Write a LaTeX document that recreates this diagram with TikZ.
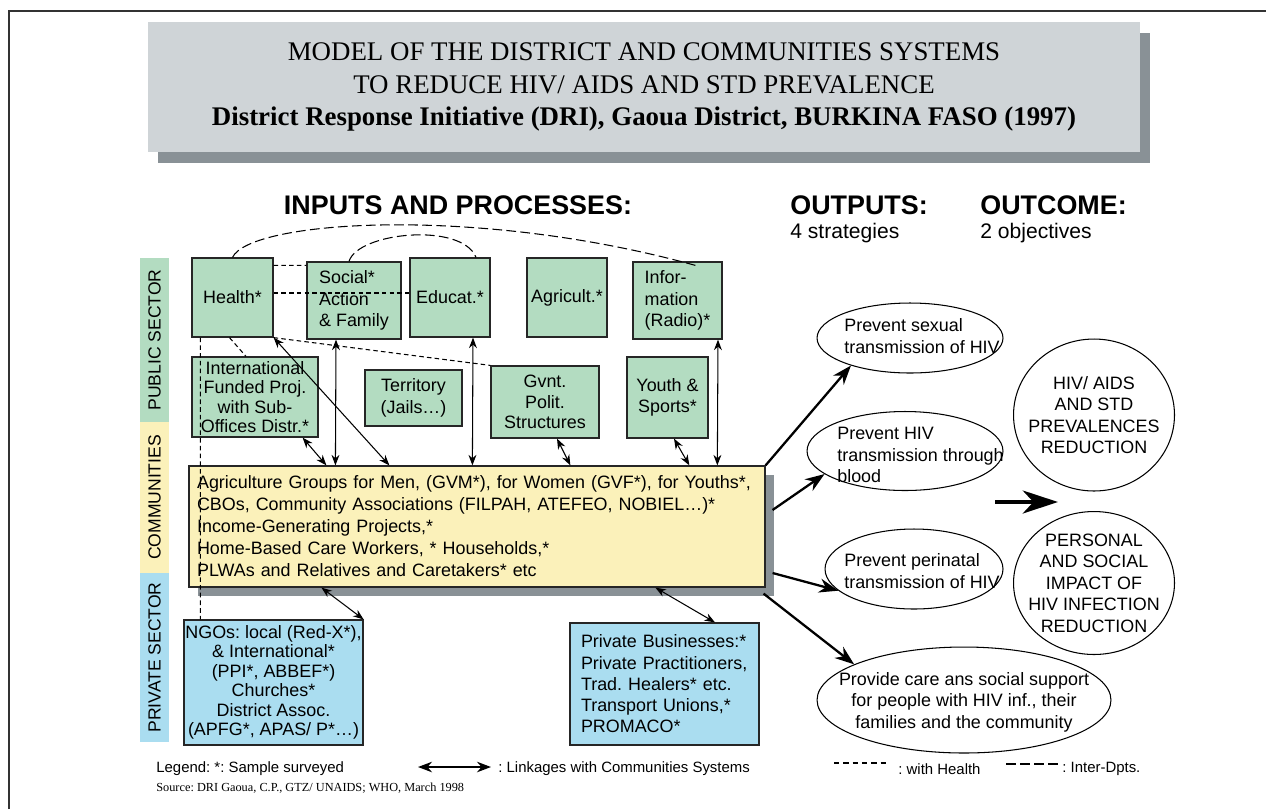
\documentclass[tikz,border=0pt]{standalone}
\usepackage{fontspec}
\setmainfont{Liberation Sans}
\newfontfamily\timesfont{Liberation Serif}
\usetikzlibrary{arrows.meta, shapes.geometric, shadows}
\frenchspacing

\definecolor{pubgreen}{RGB}{179,220,193}
\definecolor{comyellow}{RGB}{251,241,186}
\definecolor{privblue}{RGB}{170,221,240}
\definecolor{titlegray}{RGB}{207,212,215}
\definecolor{shadegray}{RGB}{137,145,150}

\begin{document}
\begin{tikzpicture}[
  x=0.02cm, y=-0.02cm,
  every node/.style={
    font=\fontsize{10.2}{12.2}\selectfont
  },
  titlebox/.style={
    fill=titlegray, inner sep=0pt, align=center,
    font=\timesfont\fontsize{15.3}{18.7}\selectfont,
    general shadow={shadow xshift=0.2cm, shadow yshift=-0.22cm, fill=shadegray}
  },
  head/.style={inner sep=0pt, font=\bfseries\fontsize{15.3}{18}\selectfont},
  sub/.style={inner sep=0pt, font=\fontsize{12}{14}\selectfont},
  strip/.style={
    rotate=90, minimum height=0.58cm, inner sep=0pt,
    font=\fontsize{10}{12}\selectfont
  },
  box/.style={draw=black!85, line width=0.7pt, inner sep=0pt},
  pubbox/.style={box, fill=pubgreen, align=center},
  oval/.style={ellipse, draw, line width=0.6pt, inner sep=0pt},
  otext/.style={align=left, inner sep=0pt},
  ctext/.style={align=center, inner sep=0pt},
  link/.style={
    {Stealth[length=6pt, width=4.5pt]}-{Stealth[length=6pt, width=4.5pt]},
    line width=0.6pt
  },
  outarrow/.style={-{Stealth[length=11pt, width=8pt]}, line width=1.3pt},
  goarrow/.style={-{Stealth[length=20pt, width=13pt, inset=6pt]}, line width=2.6pt},
  hdash/.style={dash pattern=on 2.6pt off 1.8pt, line width=0.6pt},
  idash/.style={dash pattern=on 5.5pt off 2.5pt, line width=0.6pt},
  legend/.style={inner sep=0pt, font=\fontsize{8.5}{10}\selectfont}
  ]
  \useasboundingbox (0,0) rectangle (1266,809);
  \draw[line width=1.5pt, black!80] (9,809) -- (9,11) -- (1266,11);

  \node[titlebox, minimum width=19.84cm, minimum height=2.6cm] (title) at (644,87)
    {MODEL OF THE DISTRICT AND COMMUNITIES SYSTEMS\\
     TO REDUCE HIV/ AIDS AND STD PREVALENCE\\
     \textbf{District Response Initiative (DRI), Gaoua District, BURKINA FASO (1997)}};

  \node[head] (inputs) at (458,205) {INPUTS AND PROCESSES:};
  \node[head, anchor=west] (outputs) at (790,205) {OUTPUTS:};
  \node[sub, anchor=west] (strategies) at (790,233) {4 strategies};
  \node[head, anchor=west] (outcome) at (980,205) {OUTCOME:};
  \node[sub, anchor=west] (objectives) at (980,233) {2 objectives};

  \node[strip, fill=pubgreen, minimum width=3.28cm] (pubside) at (154.5,340) {PUBLIC SECTOR};
  \node[strip, fill=comyellow, minimum width=3.02cm] (comside) at (154.5,497.5) {COMMUNITIES};
  \node[strip, fill=privblue, minimum width=3.38cm] (privside) at (154.5,657.5) {PRIVATE SECTOR};

  \node[pubbox, minimum width=1.62cm, minimum height=1.58cm] (health) at (232.5,297.5) {Health*};
  \node[pubbox, align=left, minimum width=1.88cm, minimum height=1.54cm] (social) at (354,300.5)
    {Social*\\Action\\\& Family};
  \node[pubbox, minimum width=1.6cm, minimum height=1.58cm] (educ) at (450,297.5) {Educat.*};
  \node[pubbox, minimum width=1.6cm, minimum height=1.58cm] (agri) at (567,297.5) {Agricult.*};
  \node[pubbox, align=left, minimum width=1.78cm, minimum height=1.54cm] (info) at (677.5,300.5)
    {Infor-\\mation\\(Radio)*};

  \node[pubbox, minimum width=2.52cm, minimum height=1.6cm, font=\fontsize{10.2}{11.1}\selectfont]
    (intl) at (255,397) {International\\Funded Proj.\\with Sub-\\Offices Distr.*};
  \node[pubbox, minimum width=1.94cm, minimum height=1.12cm] (territory) at (413.5,398)
    {Territory\\(Jails…)};
  \node[pubbox, minimum width=2.16cm, minimum height=1.44cm, font=\fontsize{10.2}{11.6}\selectfont]
    (gvnt) at (545,402) {Gvnt.\\Polit.\\Structures};
  \node[pubbox, minimum width=1.62cm, minimum height=1.62cm] (youth) at (667.5,397.5)
    {Youth \&\\Sports*};

  \node[box, fill=comyellow, text width=11.2cm, inner xsep=0.16cm, minimum height=2.42cm,
    align=left, font=\fontsize{10.2}{12.5}\selectfont,
    general shadow={shadow xshift=0.18cm, shadow yshift=-0.18cm, fill=shadegray}]
    (comm) at (477,526.5)
    {Agriculture Groups for Men, (GVM*), for Women (GVF*), for Youths*,\\
     CBOs, Community Associations (FILPAH, ATEFEO, NOBIEL…)*\\
     Income-Generating Projects,*\\
     Home-Based Care Workers, * Households,*\\
     PLWAs and Relatives and Caretakers* etc};

  \node[box, fill=privblue, align=center, minimum width=3.58cm, minimum height=2.5cm,
    font=\fontsize{10.2}{11.1}\selectfont] (ngo) at (273.5,682.5)
    {NGOs: local (Red-X*),\\\& International*\\(PPI*, ABBEF*)\\Churches*\\District Assoc.\\(APFG*, APAS/ P*…)};
  \node[box, fill=privblue, align=left, text width=3.34cm, inner xsep=0.22cm, minimum height=2.44cm,
    font=\fontsize{10.2}{12.1}\selectfont] (priv) at (664.5,684)
    {Private Businesses:*\\Private Practitioners,\\Trad. Healers* etc.\\Transport Unions,*\\PROMACO*};

  \node[oval, minimum width=3.72cm, minimum height=1.4cm,
    label={[otext, xshift=0.24cm, yshift=0.04cm]center:{Prevent sexual\\transmission of HIV}}]
    (sexual) at (910,338) {};
  \node[oval, minimum width=3.92cm, minimum height=1.58cm,
    label={[otext, xshift=0.31cm, yshift=-0.08cm]center:{Prevent HIV\\transmission through\\blood}}]
    (blood) at (905,451) {};
  \node[oval, minimum width=3.56cm, minimum height=1.6cm,
    label={[otext, xshift=0.16cm, yshift=-0.04cm]center:{Prevent perinatal\\transmission of HIV}}]
    (perinatal) at (914,569) {};
  \node[oval, minimum width=5.88cm, minimum height=2.12cm,
    label={[ctext, yshift=-0.04cm]center:{Provide care ans social support\\for people with HIV inf., their\\families and the community}}]
    (care) at (964,700) {};
  \node[oval, minimum width=3.22cm, minimum height=3.04cm,
    label={[ctext]center:{HIV/ AIDS\\AND STD\\PREVALENCES\\REDUCTION}}]
    (prev) at (1094,415) {};
  \node[oval, minimum width=3.22cm, minimum height=2.86cm,
    label={[ctext]center:{PERSONAL\\AND SOCIAL\\IMPACT OF\\HIV INFECTION\\REDUCTION}}]
    (impact) at (1094,583) {};

  \draw[hdash] ([yshift=-0.16cm]health.north east) -- ([yshift=-0.08cm]social.north west);
  \draw[hdash] ([yshift=0.09cm]health.east) -- ([yshift=0.09cm]educ.west);
  \draw[hdash] (health.south east) -- (gvnt.north west);
  \draw[hdash] ([xshift=-0.06cm]health.south) -- ([xshift=-0.18cm]intl.north);
  \draw[hdash] ([xshift=0.18cm]health.south west) -- ([xshift=0.34cm]ngo.north west);
  \draw[idash] (health.north) .. controls (250,220) and (480,205) .. ([xshift=0.43cm, yshift=-0.1cm]info.north);
  \draw[idash] ([xshift=-0.1cm]social.north) .. controls (358,232) and (462,222) .. ([xshift=0.52cm]educ.north);

  \draw[link] ([xshift=-0.32cm]intl.south east) -- ([xshift=2.76cm]comm.north west);
  \draw[link] ([xshift=-0.36cm]social.south) -- ([xshift=2.94cm]comm.north west);
  \draw[link] (health.south east) -- ([xshift=4.02cm]comm.north west);
  \draw[link] ([xshift=0.46cm]educ.south) -- ([xshift=5.68cm]comm.north west);
  \draw[link] ([xshift=0.24cm]gvnt.south) -- ([xshift=7.64cm]comm.north west);
  \draw[link] ([xshift=0.13cm]youth.south) -- ([xshift=10.02cm]comm.north west);
  \draw[link] ([xshift=0.81cm]info.south) -- ([xshift=10.58cm]comm.north west);
  \draw[link] ([xshift=2.66cm]comm.south west) -- (ngo.north east);
  \draw[link] ([xshift=9.34cm]comm.south west) -- ([xshift=1.01cm]priv.north);

  \draw[outarrow] (comm.north east) -- (sexual.205);
  \draw[outarrow] ([xshift=0.14cm, yshift=0.33cm]comm.east) -- (blood.196);
  \draw[outarrow] ([xshift=0.14cm, yshift=-0.93cm]comm.east) -- (perinatal.196);
  \draw[outarrow] ([xshift=-0.04cm, yshift=-0.12cm]comm.south east) -- (care.162);

  \coordinate (gofrom) at (995,502);
  \coordinate (goto) at (1058,502);
  \draw[goarrow] (gofrom) -- (goto);

  \node[legend, anchor=west] (legend) at (156,769) {Legend: *: Sample surveyed};
  \coordinate (linkA) at (418,767);
  \coordinate (linkB) at (491,767);
  \draw[{Stealth[length=8pt, width=6pt]}-{Stealth[length=8pt, width=6pt]}, line width=0.8pt] (linkA) -- (linkB);
  \node[legend, anchor=west] (linkage) at (498,769) {: Linkages with Communities Systems};
  \coordinate (hdA) at (834,763);
  \coordinate (hdB) at (889,763);
  \draw[hdash, dash pattern=on 3pt off 2.3pt] (hdA) -- (hdB);
  \node[legend, anchor=west] (withhealth) at (898,769) {: with Health};
  \coordinate (idA) at (1006,764);
  \coordinate (idB) at (1060,764);
  \draw[idash] (idA) -- (idB);
  \node[legend, anchor=west] (interdpts) at (1062,769) {: Inter-Dpts.};
  \node[anchor=west, inner sep=0pt, font=\timesfont\fontsize{7}{8}\selectfont] (source) at (156,788)
    {Source: DRI Gaoua, C.P., GTZ/ UNAIDS; WHO, March 1998};
\end{tikzpicture}
\end{document}
